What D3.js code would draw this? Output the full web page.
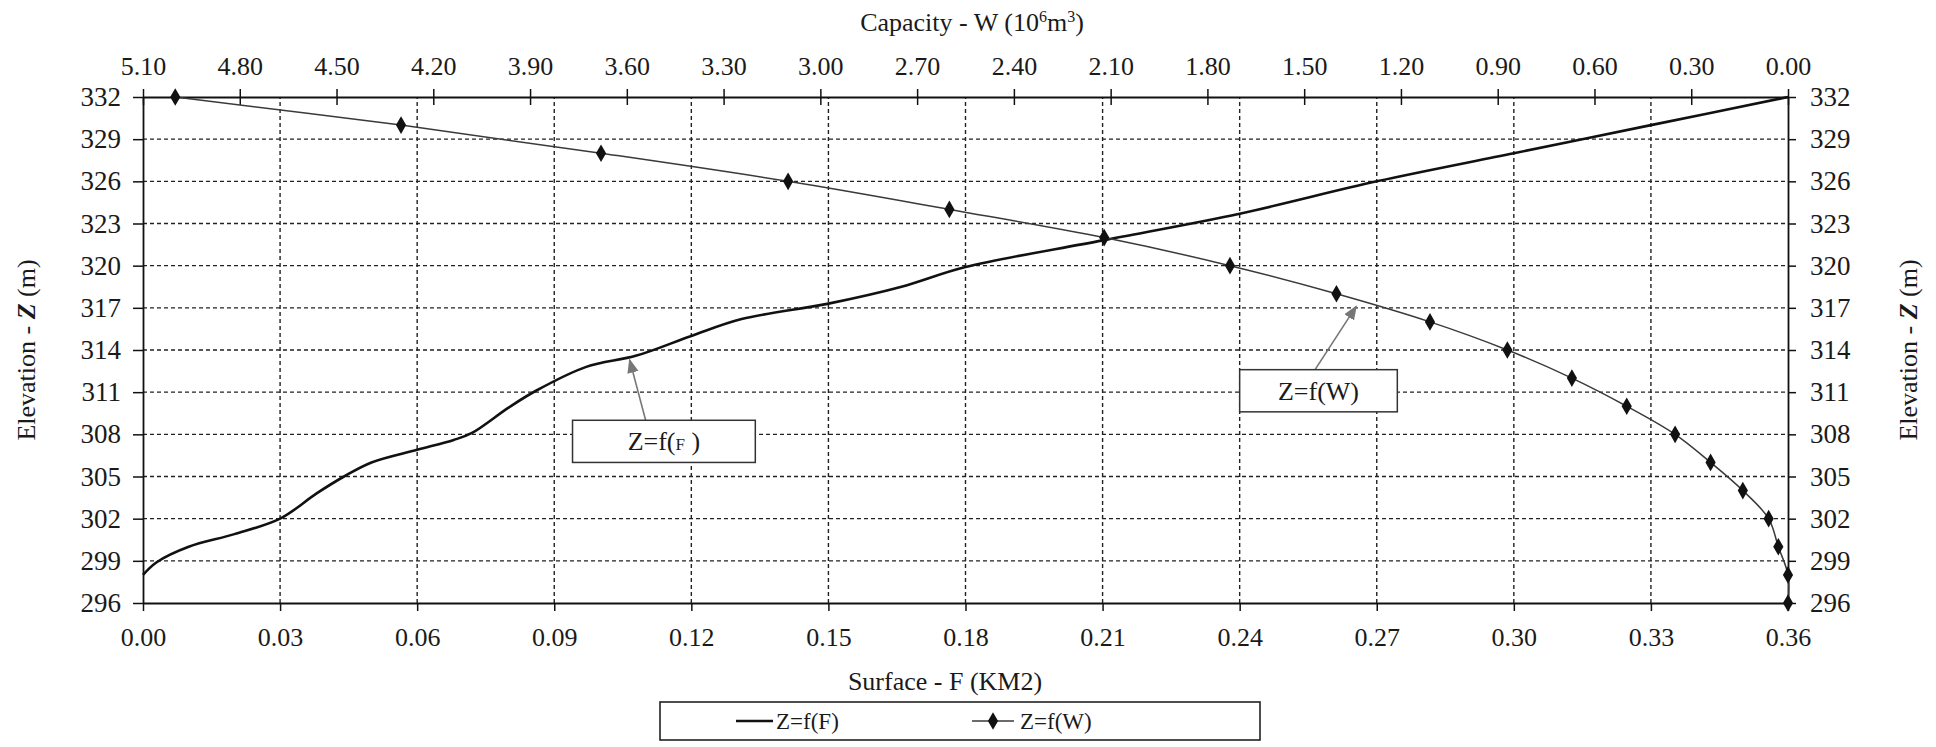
<!DOCTYPE html>
<html>
<head>
<meta charset="utf-8">
<script src="https://cdn.jsdelivr.net/npm/d3@7.9.0/dist/d3.min.js"></script>
<style>
  body { margin: 0; background: #fff; }
  svg text { font-family: "Liberation Serif", "Liberation Sans", Arial, sans-serif; fill: #1a1a1a; }
</style>
</head>
<body>
<svg id="chart" width="1936" height="747"></svg>
<script>
// tick labels
const fTicks = [0, 0.03, 0.06, 0.09, 0.12, 0.15, 0.18, 0.21, 0.24, 0.27, 0.30, 0.33, 0.36];
const wTicks = [5.10, 4.80, 4.50, 4.20, 3.90, 3.60, 3.30, 3.00, 2.70, 2.40, 2.10, 1.80, 1.50, 1.20, 0.90, 0.60, 0.30, 0.00];
const zTicks = [296, 299, 302, 305, 308, 311, 314, 317, 320, 323, 326, 329, 332];

// Z = f(F) curve (surface, km2)
const surfF = [0.000, 0.003, 0.010, 0.020, 0.030, 0.038, 0.044, 0.050, 0.060, 0.068, 0.072, 0.080, 0.086, 0.097, 0.108, 0.120, 0.131, 0.150, 0.166, 0.180, 0.210, 0.240, 0.270, 0.300, 0.330, 0.360];
const surfZ = [298.0, 298.9, 300.0, 300.9, 302.0, 303.8, 305.0, 306.0, 306.9, 307.6, 308.1, 309.9, 311.1, 312.8, 313.6, 315.0, 316.2, 317.3, 318.5, 319.9, 321.8, 323.7, 326.0, 328.0, 330.0, 332.0];

// Z = f(W) points (capacity, 10^6 m3)
const capW = [5.00, 4.30, 3.68, 3.10, 2.60, 2.12, 1.73, 1.40, 1.11, 0.87, 0.67, 0.50, 0.35, 0.24, 0.14, 0.06, 0.03, 0.00, 0.00];
const capZ = [332, 330, 328, 326, 324, 322, 320, 318, 316, 314, 312, 310, 308, 306, 304, 302, 300, 298, 296];

const FONT = '"Liberation Serif", "Liberation Sans", Arial, sans-serif';

const svg = d3.select('#chart');
const margin = { top: 97, right: 148, bottom: 144, left: 143 };
const width = 1936, height = 747;

const x = d3.scaleLinear().domain([0, 0.36]).range([margin.left, width - margin.right]);
const xW = d3.scaleLinear().domain([5.10, 0]).range([margin.left, width - margin.right]);
const y = d3.scaleLinear().domain([296, 332]).range([height - margin.bottom, margin.top]);

const fmt = d3.format('.2f');

// gridlines
const grid = svg.append('g').attr('class', 'grid')
  .attr('stroke', '#222').attr('stroke-width', 1.4).attr('stroke-dasharray', '4,3');
grid.selectAll('.hg').data(zTicks.slice(1, -1)).join('line')
  .attr('x1', x(0)).attr('x2', x(0.36))
  .attr('y1', d => y(d)).attr('y2', d => y(d));
grid.selectAll('.vg').data(fTicks.slice(1, -1)).join('line')
  .attr('y1', y(296)).attr('y2', y(332))
  .attr('x1', d => x(d)).attr('x2', d => x(d));

function styleAxis(g, size) {
  g.attr('font-family', FONT);
  g.selectAll('.domain').attr('stroke', '#111').attr('stroke-width', 1.8);
  g.selectAll('.tick line').attr('stroke', '#111').attr('stroke-width', 1.5);
  g.selectAll('.tick text').attr('font-size', size).attr('fill', '#1a1a1a')
    .attr('font-family', FONT);
}

// bottom axis (surface)
const gB = svg.append('g')
  .attr('transform', `translate(0,${y(296)})`)
  .call(d3.axisBottom(x).tickValues(fTicks).tickFormat(fmt).tickSizeInner(8).tickSizeOuter(0).tickPadding(17));
styleAxis(gB, 26);

// top axis (capacity)
const gT = svg.append('g')
  .attr('transform', `translate(0,${y(332)})`)
  .call(d3.axisTop(xW).tickValues(wTicks).tickFormat(fmt).tickSizeInner(8).tickSizeOuter(0).tickPadding(14));
gT.selectAll('.tick line').attr('y1', 8);
styleAxis(gT, 26);

// left axis
const gL = svg.append('g')
  .attr('transform', `translate(${x(0)},0)`)
  .call(d3.axisLeft(y).tickValues(zTicks).tickSizeInner(10).tickSizeOuter(0).tickPadding(12));
styleAxis(gL, 27);

// right axis
const gR = svg.append('g')
  .attr('transform', `translate(${x(0.36)},0)`)
  .call(d3.axisRight(y).tickValues(zTicks).tickSizeInner(8).tickSizeOuter(0).tickPadding(14));
styleAxis(gR, 27);

// axis titles
svg.append('text')
  .attr('x', 972).attr('y', 31).attr('text-anchor', 'middle').attr('font-size', 26)
  .call(t => {
    t.append('tspan').text('Capacity - W (10');
    t.append('tspan').text('6').attr('font-size', 16).attr('dy', -9);
    t.append('tspan').text('m').attr('dy', 9);
    t.append('tspan').text('3').attr('font-size', 16).attr('dy', -9);
    t.append('tspan').text(')').attr('dy', 9);
  });

svg.append('text')
  .attr('x', 945).attr('y', 690).attr('text-anchor', 'middle').attr('font-size', 26)
  .text('Surface - F (KM2)');

function elevLabel(px) {
  svg.append('text')
    .attr('transform', `translate(${px},${(y(296) + y(332)) / 2}) rotate(-90)`)
    .attr('text-anchor', 'middle').attr('font-size', 26)
    .call(t => {
      t.append('tspan').text('Elevation - ');
      t.append('tspan').text('Z').attr('font-weight', 'bold').attr('font-style', 'italic');
      t.append('tspan').text(' (m)');
    });
}
elevLabel(35);
elevLabel(1917);

// series
const surfData = surfF.map((f, i) => ({ f, z: surfZ[i] }));
const capData = capW.map((w, i) => ({ w, z: capZ[i] }));

svg.append('path')
  .datum(surfData)
  .attr('fill', 'none').attr('stroke', '#111').attr('stroke-width', 2.6)
  .attr('d', d3.line().x(d => x(d.f)).y(d => y(d.z)).curve(d3.curveCatmullRom.alpha(0.5)));

svg.append('path')
  .datum(capData)
  .attr('fill', 'none').attr('stroke', '#3a3a3a').attr('stroke-width', 1.5)
  .attr('d', d3.line().x(d => xW(d.w)).y(d => y(d.z)).curve(d3.curveCatmullRom.alpha(0.5)));

const diamond = d3.symbol().type(d3.symbolDiamond).size(90);
svg.append('g').selectAll('path').data(capData).join('path')
  .attr('transform', d => `translate(${xW(d.w)},${y(d.z)})`)
  .attr('d', diamond).attr('fill', '#111');

// annotations
const defs = svg.append('defs');
defs.append('marker').attr('id', 'arr').attr('viewBox', '0 0 10 10')
  .attr('refX', 9).attr('refY', 5).attr('markerWidth', 9).attr('markerHeight', 9)
  .attr('orient', 'auto-start-reverse')
  .append('path').attr('d', 'M0,1 L10,5 L0,9 Z').attr('fill', '#777');

function callout(box, tail, head, build) {
  svg.append('line')
    .attr('x1', x(tail[0])).attr('y1', y(tail[1]))
    .attr('x2', x(head[0])).attr('y2', y(head[1]))
    .attr('stroke', '#777').attr('stroke-width', 1.6).attr('marker-end', 'url(#arr)');
  const bx = x(box[0]), by = y(box[3]), bw = x(box[1]) - x(box[0]), bh = y(box[2]) - y(box[3]);
  svg.append('rect').attr('x', bx).attr('y', by).attr('width', bw).attr('height', bh)
    .attr('fill', '#fff').attr('stroke', '#333').attr('stroke-width', 1.5);
  const t = svg.append('text').attr('x', bx + bw / 2).attr('y', by + bh / 2 + 9)
    .attr('text-anchor', 'middle').attr('font-size', 26);
  build(t);
}

// box: [f0, f1, z0, z1]
callout([0.094, 0.134, 306.0, 309.0], [0.110, 309.0], [0.1065, 313.3], t => {
  t.append('tspan').text('Z=f(');
  t.append('tspan').text('F').attr('font-size', 17);
  t.append('tspan').text(' )');
});
callout([0.240, 0.2745, 309.6, 312.6], [0.2565, 312.6], [0.2655, 317.1], t => {
  t.text('Z=f(W)');
});

// legend
const lg = svg.append('g');
lg.append('rect').attr('x', 660).attr('y', 702).attr('width', 600).attr('height', 38)
  .attr('fill', '#fff').attr('stroke', '#222').attr('stroke-width', 1.6);
lg.append('line').attr('x1', 736).attr('x2', 773).attr('y1', 721).attr('y2', 721)
  .attr('stroke', '#111').attr('stroke-width', 2.4);
lg.append('text').attr('x', 776).attr('y', 729).attr('font-size', 23).text('Z=f(F)');
lg.append('line').attr('x1', 972).attr('x2', 1014).attr('y1', 721).attr('y2', 721)
  .attr('stroke', '#3a3a3a').attr('stroke-width', 1.5);
lg.append('path').attr('transform', 'translate(993,721)').attr('d', diamond).attr('fill', '#111');
lg.append('text').attr('x', 1020).attr('y', 729).attr('font-size', 23).text('Z=f(W)');
</script>
</body>
</html>
